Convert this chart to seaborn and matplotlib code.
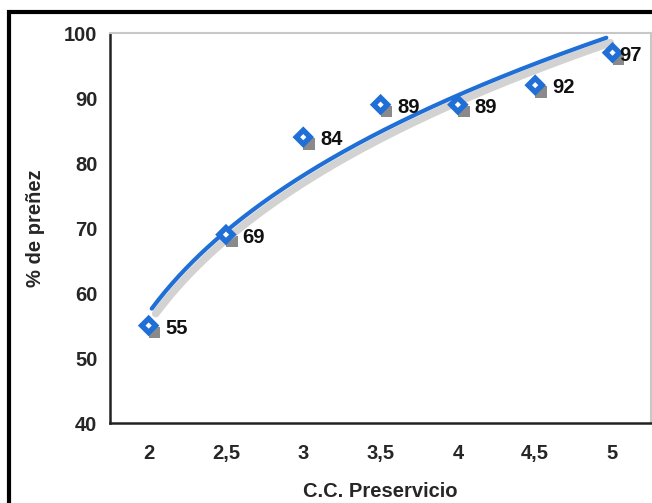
import numpy as np
import pandas as pd
import matplotlib
matplotlib.use("Agg")
import matplotlib.pyplot as plt
import matplotlib.transforms as mtransforms
from matplotlib.patches import Rectangle
import seaborn as sns

# ─────────────────────────────────────────────
# Data
# ─────────────────────────────────────────────
cc_labels = ["2", "2,5", "3", "3,5", "4", "4,5", "5"]
prenez = [55, 69, 84, 89, 89, 92, 97]

y_ticks = [40, 50, 60, 70, 80, 90, 100]

BLUE = "#1f6fd6"
SHADOW_LINE = "#d2d2d2"
SHADOW_MARK = "#8a8a8a"
FS = 14.5

sns.set_style("white")
plt.rcParams["font.family"] = ["Liberation Sans", "DejaVu Sans"]

df = pd.DataFrame({"pos": np.arange(len(cc_labels)), "cc": cc_labels, "prenez": prenez})

# power trendline fitted on the category index (1..n), like a spreadsheet does
idx = df["pos"].to_numpy() + 1.0
b, ln_a = np.polyfit(np.log(idx), np.log(df["prenez"]), 1)
xs = np.linspace(idx.min() + 0.04, idx.max() - 0.08, 200)
trend = pd.DataFrame({"pos": xs - 1.0, "fit": np.exp(ln_a) * xs ** b})

fig = plt.figure(figsize=(6.52, 5.03), dpi=100)
ax = fig.add_axes([0.1687, 0.159, 0.83, 0.775])

# trend line with grey drop shadow
sns.lineplot(data=trend, x="pos", y="fit", ax=ax, color=SHADOW_LINE, linewidth=5.5)
ax.lines[-1].set_transform(mtransforms.offset_copy(ax.transData, fig, x=4, y=-5, units="dots"))
sns.lineplot(data=trend, x="pos", y="fit", ax=ax, color=BLUE, linewidth=3)

# markers: grey shadow, blue diamond, white centre
sns.scatterplot(data=df, x="pos", y="prenez", ax=ax, marker="s", s=70,
                color=SHADOW_MARK, edgecolor="none", linewidth=0)
ax.collections[-1].set_offset_transform(
    mtransforms.offset_copy(ax.transData, fig, x=6, y=-7, units="dots"))
sns.scatterplot(data=df, x="pos", y="prenez", ax=ax, marker="D", s=120,
                color=BLUE, edgecolor="none", linewidth=0, zorder=4)
sns.scatterplot(data=df, x="pos", y="prenez", ax=ax, marker="D", s=10,
                color="white", edgecolor="none", linewidth=0, zorder=5)

# value labels; the last one sits tight against its marker at the right edge
n = len(df)
for i, (x, y) in enumerate(zip(df["pos"], df["prenez"])):
    dx = 5 if i == n - 1 else 12
    ax.annotate(str(y), (x, y), xytext=(dx, -2), textcoords="offset points",
                ha="left", va="center", fontsize=FS, fontweight="bold", color="#111111",
                zorder=6)

ax.set_xlim(-0.5, len(cc_labels) - 0.5)
ax.set_ylim(40, 100)
ax.set_yticks(y_ticks)
ax.set_yticklabels([str(t) for t in y_ticks], fontsize=FS, fontweight="bold")
ax.set_xticks(df["pos"])
ax.set_xticklabels(cc_labels, fontsize=FS, fontweight="bold")
ax.set_xticks(np.arange(len(cc_labels)) + 0.5, minor=True)
ax.tick_params(axis="x", which="major", length=0, pad=15)
ax.tick_params(axis="x", which="minor", length=5, width=1.5, color="#222222", direction="out")
ax.tick_params(axis="y", length=5, width=1.5, color="#222222", direction="out", pad=4)

ax.set_xlabel("C.C. Preservicio", fontsize=FS, fontweight="bold", labelpad=14)
ax.set_ylabel("% de preñez", fontsize=FS, fontweight="bold", labelpad=14)

for side in ["left", "bottom"]:
    ax.spines[side].set_color("#222222")
    ax.spines[side].set_linewidth(1.8)
for side in ["top", "right"]:
    ax.spines[side].set_color("#c8c8c8")
    ax.spines[side].set_linewidth(1.5)

# black frame around the picture (only top and left edges visible)
fig.patches.append(Rectangle((0.0145, -0.1), 1.2, 1.077, transform=fig.transFigure,
                             fill=False, edgecolor="black", linewidth=3))

fig.savefig("out.png", dpi=100)
